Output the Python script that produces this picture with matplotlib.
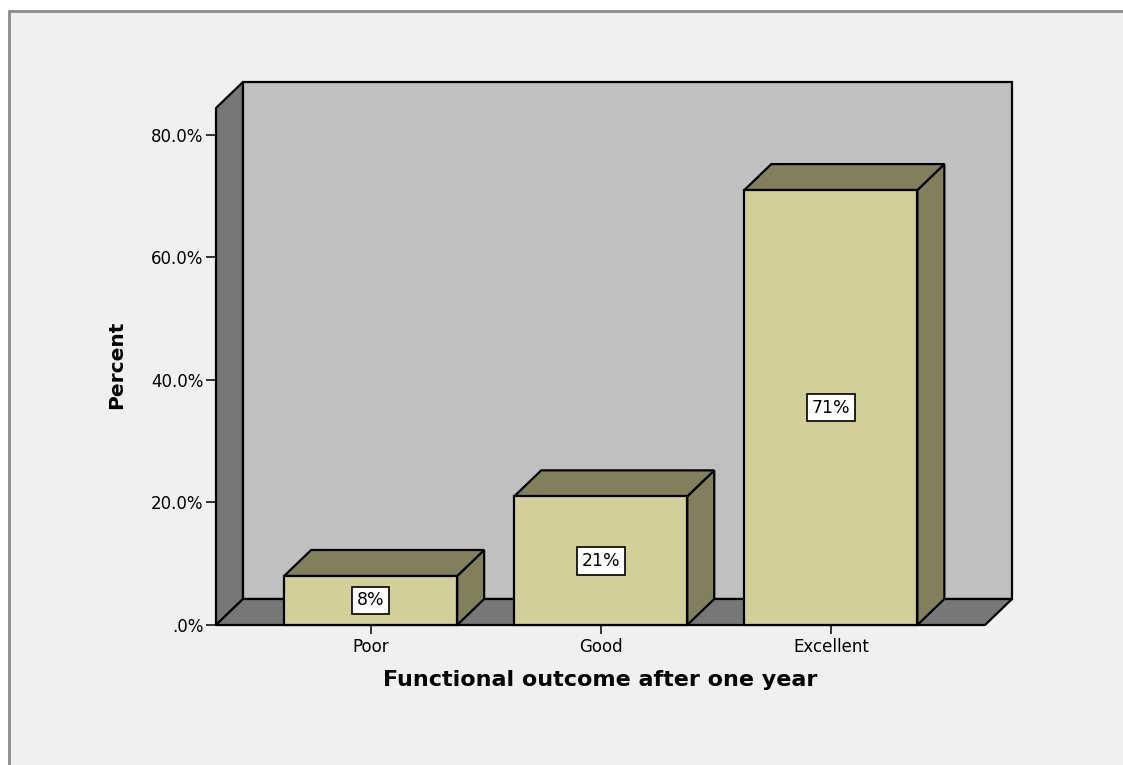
import matplotlib
matplotlib.use("Agg")
import matplotlib.pyplot as plt
from matplotlib.patches import Polygon, Rectangle

# Functional outcome after one year (percent of patients)
categories = ["Poor", "Good", "Excellent"]
percents = [8, 21, 71]
value_labels = ["8%", "21%", "71%"]
y_ticks = [0, 20, 40, 60, 80]

FRONT = "#d3cf98"
SHADE = "#827f5c"
WALL = "#c0c0c0"
SIDE = "#777777"
PANEL = "#f0f0f0"

W, H = 1123, 765
fig = plt.figure(figsize=(W / 100, H / 100), dpi=100, facecolor="white")

# grey panel framing the chart
fig.patches.append(Rectangle((8.5 / W, -0.01), 1.02, (H - 11) / H + 0.01,
                             transform=fig.transFigure, facecolor=PANEL,
                             edgecolor="#8a8a8a", linewidth=2, zorder=-10))

# front plane of the 3D box
ax = fig.add_axes([216 / W, (H - 625) / H, (985 - 216) / W, (625 - 108) / H])
ax.set_zorder(1)
ax.set_facecolor("none")
for s in ax.spines.values():
    s.set_visible(False)

x = list(range(len(categories)))
xmin, xmax = -0.672, 2.67
ymin, ymax = 0, 84.4
ax.set_xlim(xmin, xmax)
ax.set_ylim(ymin, ymax)

# depth of the 3D projection, expressed in data units (about 27 px right, 26 px up)
ax_w_px = 985 - 216
ax_h_px = 625 - 108
ddx = 27 * (xmax - xmin) / ax_w_px
ddy = 26 * (ymax - ymin) / ax_h_px

edge = dict(edgecolor="black", linewidth=1.6, clip_on=False, joinstyle="miter")

# left wall, back wall and floor
ax.add_patch(Polygon([(xmin, ymin), (xmin, ymax), (xmin + ddx, ymax + ddy), (xmin + ddx, ymin + ddy)],
                     facecolor=SIDE, zorder=1, **edge))
ax.add_patch(Polygon([(xmin + ddx, ymin + ddy), (xmin + ddx, ymax + ddy),
                      (xmax + ddx, ymax + ddy), (xmax + ddx, ymin + ddy)],
                     facecolor=WALL, zorder=1, **edge))
ax.add_patch(Polygon([(xmin, ymin), (xmax, ymin), (xmax + ddx, ymin + ddy), (xmin + ddx, ymin + ddy)],
                     facecolor=SIDE, zorder=1, **edge))

width = 0.752
bars = ax.bar(x, percents, width=width, color=FRONT, edgecolor="black",
              linewidth=1.6, zorder=4, clip_on=False)

for bar, v, lab in zip(bars, percents, value_labels):
    l = bar.get_x()
    r = l + bar.get_width()
    # right side face
    ax.add_patch(Polygon([(r, 0), (r, v), (r + ddx, v + ddy), (r + ddx, ddy)],
                         facecolor=SHADE, zorder=3, **edge))
    # top face
    ax.add_patch(Polygon([(l, v), (r, v), (r + ddx, v + ddy), (l + ddx, v + ddy)],
                         facecolor=SHADE, zorder=3, **edge))
    ax.text(bar.get_x() + bar.get_width() / 2, v / 2, lab, ha="center", va="center",
            fontsize=12.5, color="black", zorder=6,
            bbox=dict(boxstyle="square,pad=0.28", facecolor="white",
                      edgecolor="black", linewidth=1.2))

ax.set_xticks(x)
ax.set_xticklabels(categories)
ax.set_yticks(y_ticks)
ax.set_yticklabels([(f"{t:.1f}%".lstrip("0") if t == 0 else f"{t:.1f}%") for t in y_ticks])
ax.tick_params(axis="y", direction="out", length=7.2, width=1.1, pad=2,
               labelsize=12, colors="black")
ax.tick_params(axis="x", direction="out", length=6.5, width=1.1, pad=3,
               labelsize=12, colors="black")

ax.set_xlabel("Functional outcome after one year", fontsize=16, fontweight="bold")
ax.xaxis.set_label_coords(0.5, -0.087)
ax.set_ylabel("Percent", fontsize=14.5, fontweight="bold")
ax.yaxis.label.set_va("center")
ax.yaxis.set_label_coords(-0.129, 0.503)

fig.savefig("out.png", dpi=100, facecolor="white")
